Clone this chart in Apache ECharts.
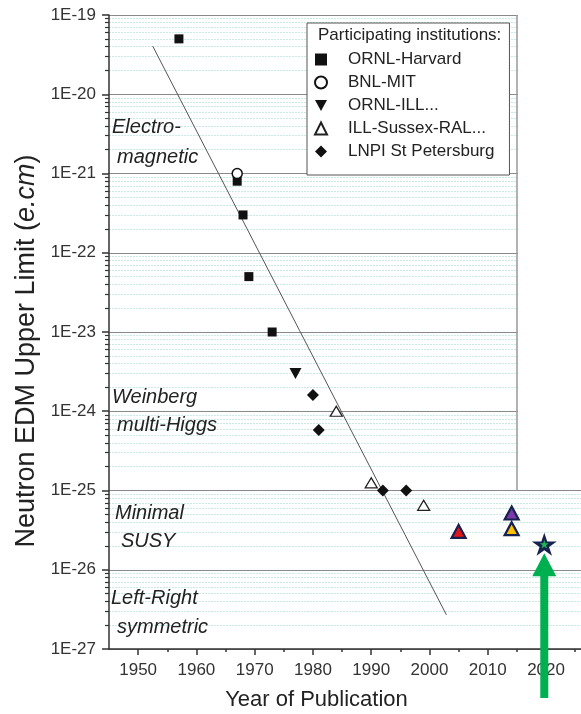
<!DOCTYPE html>
<html><head><meta charset="utf-8">
<script src="https://cdn.jsdelivr.net/npm/echarts@6/dist/echarts.min.js"></script>
<style>html,body{margin:0;padding:0;background:#fff}#c{width:581px;height:714px}</style>
</head><body><div id="c"></div>
<script>
// ---------- data ----------
const ornlHarvard = [[1957, 5e-20], [1967, 8e-22], [1968, 3e-22], [1969, 5e-23], [1973, 1e-23]];
const bnlMit = [[1967, 1e-21]];
const ornlIll = [[1977, 3e-24]];
const illSussexRal = [[1984, 1e-24], [1990, 1.25e-25], [1999, 6.5e-26]];
const lnpiStPetersburg = [[1980, 1.6e-24], [1981, 5.8e-25], [1992, 1e-25], [1996, 1e-25]];
const recentRed = [[2005, 3.05e-26]];
const recentPurple = [[2014.1, 5.2e-26]];
const recentOrange = [[2014.1, 3.3e-26]];
const projectedStar = [[2019.7, 2.1e-26]];
const trendLine = [[1952.5, 4.05e-20], [2002.9, 2.7e-27]];
const originalFrameEnd = 2015;       // right edge of the original plot
const yearTicks = [1950, 1960, 1970, 1980, 1990, 2000, 2010, 2020];
const yearMinorTicks = [1955, 1965, 1975, 1985, 1995, 2005, 2015, 2025];
const decadeExponents = [-27, -26, -25, -24, -23, -22, -21, -20, -19];
const minorMultipliers = [2, 3, 4, 5, 6, 7, 8, 9];
const legendNames = ['ORNL-Harvard', 'BNL-MIT', 'ORNL-ILL...', 'ILL-Sussex-RAL...', 'LNPI St Petersburg'];
const regionLabels = [['Electro-', 'magnetic'], ['Weinberg', 'multi-Higgs'], ['Minimal', 'SUSY'], ['Left-Right', 'symmetric']];

// ---------- build ----------
const FONT = '"Liberation Sans", Arial, Helvetica, sans-serif';
const yMajorValues = decadeExponents.map(e => Math.pow(10, e));
const yMinorValues = [];
decadeExponents.slice(0, -1).forEach(e => minorMultipliers.forEach(m => yMinorValues.push(m * Math.pow(10, e))));
const yMin = yMajorValues[0];
const yMax = yMajorValues[yMajorValues.length - 1];
const xMin = 1945, xMax = 2026;
const NAVY = '#172250';
const STAR = 'path://M100 0 L122.45 69.1 L195.1 69.1 L136.3 111.8 L158.8 180.9 L100 138.2 L41.2 180.9 L63.7 111.8 L4.9 69.1 L77.55 69.1 Z';

const chart = echarts.init(document.getElementById('c'), null, {renderer: 'canvas'});
chart.setOption({
  animation: false,
  backgroundColor: '#fff',
  grid: {left: 109, top: 15, right: 0, bottom: 65, containLabel: false, outerBoundsMode: 'none'},
  xAxis: [{
    type: 'value', min: xMin, max: xMax, position: 'bottom',
    name: 'Year of Publication', nameLocation: 'middle', nameGap: 40,
    nameTextStyle: {fontSize: 22, color: '#222', fontFamily: FONT, padding: [0, 57, 0, 0]},
    axisLine: {show: true, onZero: false, lineStyle: {color: '#333', width: 1.5}},
    axisTick: {show: true, customValues: yearTicks, length: 6, lineStyle: {color: '#333', width: 1.5}},
    axisLabel: {show: true, customValues: yearTicks, margin: 13, fontSize: 17, color: '#333', fontFamily: FONT,
      formatter: v => String(Math.round(v))},
    splitLine: {show: false}
  }, {
    type: 'value', min: xMin, max: xMax, position: 'bottom', offset: 0,
    axisLine: {show: false, onZero: false},
    axisTick: {show: true, customValues: yearMinorTicks, length: 3, lineStyle: {color: '#333', width: 1.5}},
    axisLabel: {show: false},
    splitLine: {show: false}
  }],
  yAxis: [{
    type: 'log', logBase: 10, min: yMin, max: yMax, position: 'left',
    name: '{n|Neutron EDM Upper Limit (}{i|e.cm}{n|)}', nameLocation: 'middle', nameRotate: 90, nameGap: 68,
    nameTextStyle: {
      fontSize: 27, color: '#222', fontFamily: FONT, padding: [0, 38, 0, 0],
      rich: {n: {fontSize: 27, color: '#222', fontFamily: FONT}, i: {fontSize: 27, color: '#222', fontFamily: FONT, fontStyle: 'italic'}}
    },
    axisLine: {show: true, onZero: false, lineStyle: {color: '#333', width: 1.5}},
    axisTick: {show: true, customValues: yMajorValues, length: 7, lineStyle: {color: '#333', width: 1.5}},
    axisLabel: {customValues: yMajorValues, margin: 13, fontSize: 17, color: '#333', fontFamily: FONT,
      formatter: v => '1E' + Math.round(Math.log10(v))},
    splitLine: {show: true, lineStyle: {color: '#8a8a8a', width: 1}},
    minorTick: {show: false}
  }, {
    type: 'log', logBase: 10, min: yMin, max: yMax, position: 'left', offset: 0,
    axisLine: {show: false, onZero: false},
    axisTick: {show: true, customValues: yMinorValues, length: 4, lineStyle: {color: '#333', width: 1.2}},
    axisLabel: {show: false},
    splitLine: {show: true, lineStyle: {color: '#cbe9e5', width: 1, type: [2, 1]}}
  }],
  legend: {
    orient: 'vertical', left: 307, top: 23,
    data: [
      {name: legendNames[0]},
      {name: legendNames[1]},
      {name: legendNames[2], icon: 'path://M0 0 L12 0 L6 11 Z'},
      {name: legendNames[3]},
      {name: legendNames[4]}
    ],
    itemWidth: 12, itemHeight: 12, itemGap: 6,
    padding: [28, 15, 15, 7],
    backgroundColor: '#fff', borderColor: '#555', borderWidth: 1, borderRadius: 0,
    textStyle: {fontSize: 17, color: '#222', fontFamily: FONT, lineHeight: 17, padding: [0, 0, 0, 16]},
    selectedMode: false
  },
  series: [
    {
      type: 'line', name: 'trend', data: trendLine, symbol: 'none', silent: true,
      lineStyle: {color: '#555', width: 1}, z: 3,
      markLine: {
        silent: true, symbol: ['none', 'none'], label: {show: false},
        lineStyle: {color: '#999', width: 1.5, type: 'solid'},
        data: [[{coord: [originalFrameEnd, yMax]}, {coord: [originalFrameEnd, yMajorValues[2]]}]]
      }
    },
    {type: 'scatter', name: 'ORNL-Harvard', data: ornlHarvard, symbol: 'rect', symbolSize: 9,
      itemStyle: {color: '#111', opacity: 1}, z: 5},
    {type: 'scatter', name: 'BNL-MIT', data: bnlMit, symbol: 'circle', symbolSize: 10,
      itemStyle: {color: '#fff', borderColor: '#111', borderWidth: 1.5, opacity: 1}, z: 6},
    {type: 'scatter', name: 'ORNL-ILL...', data: ornlIll, symbol: 'triangle', symbolRotate: 180, symbolSize: [12, 11],
      itemStyle: {color: '#111', opacity: 1}, z: 5},
    {type: 'scatter', name: 'ILL-Sussex-RAL...', data: illSussexRal, symbol: 'triangle', symbolSize: [12, 10],
      itemStyle: {color: '#fff', borderColor: '#222', borderWidth: 1.3, opacity: 1}, z: 5},
    {type: 'scatter', name: 'LNPI St Petersburg', data: lnpiStPetersburg, symbol: 'diamond', symbolSize: 12,
      itemStyle: {color: '#111', opacity: 1}, z: 5},
    {type: 'scatter', name: 'recent-red', data: recentRed, symbol: 'triangle', symbolSize: [14, 13],
      itemStyle: {color: '#e3151c', borderColor: NAVY, borderWidth: 2.2, opacity: 1}, z: 5},
    {type: 'scatter', name: 'recent-purple', data: recentPurple, symbol: 'triangle', symbolSize: [14, 13],
      itemStyle: {color: '#7a3aa8', borderColor: NAVY, borderWidth: 2.2, opacity: 1}, z: 5},
    {type: 'scatter', name: 'recent-orange', data: recentOrange, symbol: 'triangle', symbolSize: [14, 13],
      itemStyle: {color: '#ffc000', borderColor: NAVY, borderWidth: 2.2, opacity: 1}, z: 5},
    {type: 'scatter', name: 'projected', data: projectedStar, symbol: STAR,
      symbolSize: [25, 23], itemStyle: {color: NAVY, opacity: 1}, z: 6},
    {type: 'scatter', name: 'projected-core', data: projectedStar, symbol: STAR,
      symbolSize: [9, 8.5], itemStyle: {color: '#1db954', opacity: 1}, z: 7}
  ]
});

// annotations: white-out of the region outside the original frame, region names, legend heading, green arrow
const graphics = [];
const pTop = chart.convertToPixel({xAxisIndex: 0, yAxisIndex: 0}, [originalFrameEnd, yMax]);
const pBot = chart.convertToPixel({xAxisIndex: 0, yAxisIndex: 0}, [xMax, yMajorValues[2]]);
if (pTop && pBot) {
  graphics.push({type: 'rect', z: 1, silent: true,
    shape: {x: pTop[0] + 1, y: pTop[1] - 2, width: pBot[0] - pTop[0] + 2, height: pBot[1] - pTop[1] + 1},
    style: {fill: '#fff'}});
}
const labelPos = [[112, 127, 117, 157], [112, 397, 117, 425], [115, 513, 121, 541], [111, 598, 117, 627]];
regionLabels.forEach((pair, i) => {
  const p = labelPos[i];
  graphics.push({type: 'text', x: p[0], y: p[1], z: 50, style: {text: pair[0], font: 'italic 20px ' + FONT, fill: '#222', verticalAlign: 'middle'}});
  graphics.push({type: 'text', x: p[2], y: p[3], z: 50, style: {text: pair[1], font: 'italic 20px ' + FONT, fill: '#222', verticalAlign: 'middle'}});
});
graphics.push({type: 'text', x: 318, y: 35, z: 100, style: {text: 'Participating institutions:', font: '17px ' + FONT, fill: '#222', verticalAlign: 'middle'}});
const sp = chart.convertToPixel({xAxisIndex: 0, yAxisIndex: 0}, projectedStar[0]);
const cx = (sp && isFinite(sp[0])) ? sp[0] : 544;
const tip = (sp && isFinite(sp[1])) ? sp[1] + 9 : 553;
const base = tip + 23, bottom = 698;
graphics.push({type: 'polygon', z: 100, shape: {points: [
  [cx, tip], [cx + 12, base], [cx + 4, base], [cx + 4, bottom], [cx - 4, bottom], [cx - 4, base], [cx - 12, base]
]}, style: {fill: '#00b050'}});
chart.setOption({graphic: graphics});
</script>
</body></html>
